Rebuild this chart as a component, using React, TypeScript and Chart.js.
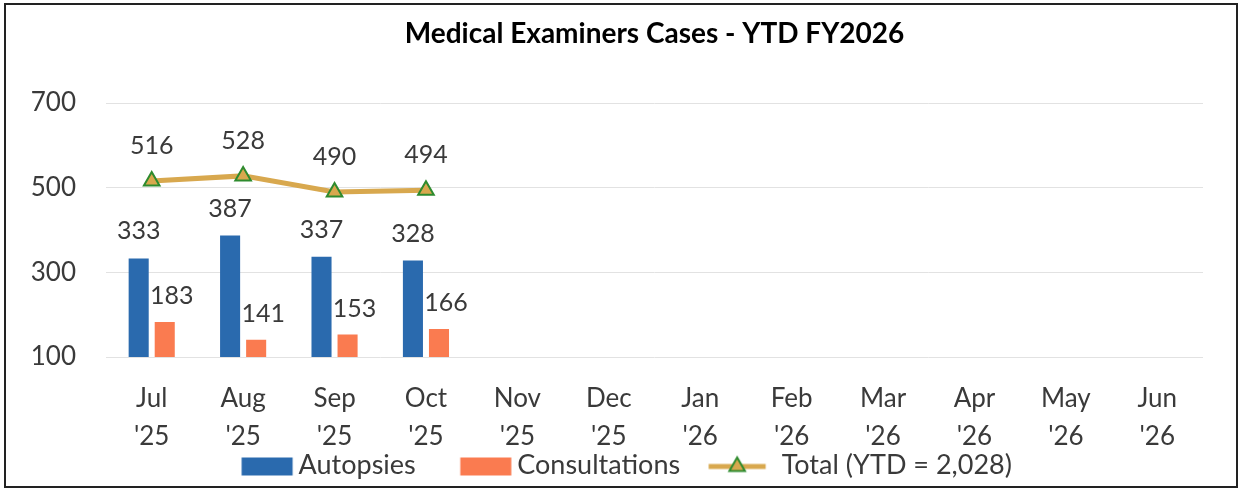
import React, { useEffect, useRef } from "react";
import { Chart, registerables } from "chart.js";

Chart.register(...registerables);

const TITLE = "Medical Examiners Cases - YTD FY2026";
const MONTHS = ["Jul", "Aug", "Sep", "Oct", "Nov", "Dec", "Jan", "Feb", "Mar", "Apr", "May", "Jun"];
const YEARS = ["'25", "'25", "'25", "'25", "'25", "'25", "'26", "'26", "'26", "'26", "'26", "'26"];
const AUTOPSIES = [333, 387, 337, 328, null, null, null, null, null, null, null, null];
const CONSULTATIONS = [183, 141, 153, 166, null, null, null, null, null, null, null, null];
const TOTAL = [516, 528, 490, 494, null, null, null, null, null, null, null, null];
const SERIES_NAMES = ["Autopsies", "Consultations", "Total (YTD = 2,028)"];
const Y_MIN = 100;
const Y_MAX = 700;
const Y_STEP = 200;

const BLUE = "#2A6AAE";
const ORANGE = "#FA7B50";
const GOLD = "#D8A84E";
const GREEN = "#2E8B2E";
const TEXT = "#3A3A3A";
const FONT = "Lato, 'Open Sans', sans-serif";

const LEGEND_FONT = 27;
const LEGEND_BOX = 88;

// icon canvas is drawn centred on (x + LEGEND_BOX/2); local u = px - LEGEND_BOX/2
function makeBoxIcon(color: string) {
  const W = LEGEND_BOX * 2;
  const H = 22;
  const c = document.createElement("canvas");
  c.width = W;
  c.height = H;
  const g = c.getContext("2d")!;
  const textX = LEGEND_BOX + LEGEND_FONT / 2;
  const right = textX - 6 + LEGEND_BOX / 2;
  g.fillStyle = color;
  g.fillRect(right - 51, 3, 51, 18);
  return c;
}

function makeLineIcon() {
  const W = LEGEND_BOX * 2;
  const H = 24;
  const c = document.createElement("canvas");
  c.width = W;
  c.height = H;
  const g = c.getContext("2d")!;
  const textX = LEGEND_BOX + LEGEND_FONT / 2;
  const right = textX - 16 + LEGEND_BOX / 2;
  const left = right - 57;
  const cy = H / 2 + 1;
  g.strokeStyle = GOLD;
  g.lineWidth = 5;
  g.beginPath();
  g.moveTo(left, cy);
  g.lineTo(right, cy);
  g.stroke();
  const r = 9;
  const cx = (left + right) / 2;
  g.beginPath();
  g.moveTo(cx, cy - r);
  g.lineTo(cx + r * Math.sin(Math.PI / 3), cy + r * 0.5);
  g.lineTo(cx - r * Math.sin(Math.PI / 3), cy + r * 0.5);
  g.closePath();
  g.fillStyle = GOLD;
  g.fill();
  g.strokeStyle = GREEN;
  g.lineWidth = 2;
  g.stroke();
  return c;
}

const LABEL_OFFSETS = [
  { dx: 0, dy: -27 },
  { dx: 7, dy: -26 },
  { dx: 0, dy: -35 },
];

const valueLabels = {
  id: "valueLabels",
  afterDatasetsDraw(chart: any) {
    const ctx = chart.ctx;
    ctx.save();
    ctx.font = `25px ${FONT}`;
    ctx.fillStyle = TEXT;
    ctx.textAlign = "center";
    ctx.textBaseline = "middle";
    chart.data.datasets.forEach((ds: any, i: number) => {
      const meta = chart.getDatasetMeta(i);
      const off = LABEL_OFFSETS[i];
      meta.data.forEach((el: any, j: number) => {
        const v = ds.data[j];
        if (v == null) return;
        ctx.fillText(String(v), el.x + off.dx, el.y + off.dy);
      });
    });
    ctx.restore();
  },
};

export default function App() {
  const ref = useRef<HTMLCanvasElement | null>(null);

  useEffect(() => {
    if (!ref.current) return;
    const icons = [makeBoxIcon(BLUE), makeBoxIcon(ORANGE), makeLineIcon()];
    const labels = MONTHS.map((m, i) => [m, YEARS[i]]);
    const chart = new Chart(ref.current, {
      type: "bar",
      data: {
        labels,
        datasets: [
          {
            label: SERIES_NAMES[0],
            data: AUTOPSIES,
            backgroundColor: BLUE,
            order: 1,
            categoryPercentage: 0.57,
            barPercentage: 0.77,
          } as any,
          {
            label: SERIES_NAMES[1],
            data: CONSULTATIONS,
            backgroundColor: ORANGE,
            order: 1,
            categoryPercentage: 0.57,
            barPercentage: 0.77,
          } as any,
          {
            type: "line",
            label: SERIES_NAMES[2],
            data: TOTAL,
            borderColor: GOLD,
            borderWidth: 5,
            backgroundColor: GOLD,
            pointStyle: "triangle",
            pointRadius: 9,
            pointBackgroundColor: GOLD,
            pointBorderColor: GREEN,
            pointBorderWidth: 2,
            order: 0,
            spanGaps: false,
          } as any,
        ],
      },
      options: {
        animation: false,
        responsive: false,
        maintainAspectRatio: false,
        layout: { padding: { left: 0, right: 33, top: 0, bottom: -3 } },
        plugins: {
          title: {
            display: true,
            text: TITLE,
            fullSize: false,
            color: "#000",
            font: { family: FONT, size: 28, weight: "bold" },
            padding: { top: 12.5, bottom: 52 },
          },
          legend: {
            position: "bottom",
            labels: {
              color: TEXT,
              font: { family: FONT, size: LEGEND_FONT },
              usePointStyle: true,
              pointStyleWidth: LEGEND_BOX,
              padding: 0,
              generateLabels: (c: any) => {
                const items = (Chart.defaults.plugins.legend.labels as any).generateLabels(c);
                items.forEach((it: any) => {
                  it.pointStyle = icons[it.datasetIndex];
                });
                items.sort((a: any, b: any) => a.datasetIndex - b.datasetIndex);
                return items;
              },
            },
          },
          tooltip: { enabled: false },
        },
        scales: {
          x: {
            grid: { display: false, drawTicks: false },
            border: { display: false },
            ticks: {
              color: TEXT,
              font: { family: FONT, size: 26, lineHeight: 38 / 26 },
              padding: 23,
              maxRotation: 0,
              autoSkip: false,
            },
            afterFit: (s: any) => {
              s.height = 95;
            },
          },
          y: {
            min: Y_MIN,
            max: Y_MAX,
            grid: { color: "#E2E2E2", drawTicks: false, lineWidth: 1 },
            border: { display: false },
            ticks: {
              stepSize: Y_STEP,
              color: TEXT,
              font: { family: FONT, size: 26 },
              padding: 30,
            },
            afterFit: (s: any) => {
              s.width = 100;
            },
          },
        },
      } as any,
      plugins: [valueLabels],
    });
    return () => chart.destroy();
  }, []);

  return (
    <div
      style={{
        position: "absolute",
        left: 4,
        top: 3,
        width: 1230,
        height: 481,
        border: "2px solid #222",
        background: "#fff",
      }}
    >
      <canvas ref={ref} width={1230} height={481} style={{ display: "block" }} />
    </div>
  );
}
